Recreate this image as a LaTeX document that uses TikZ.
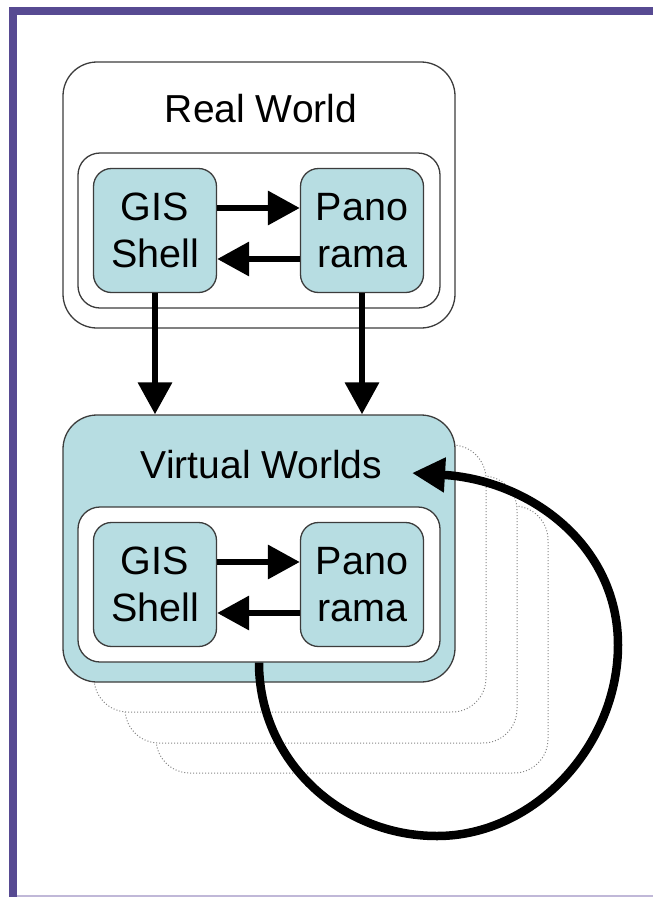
\documentclass[tikz,border=0pt]{standalone}
\usepackage{fontspec}
\setmainfont{Liberation Sans}
\usetikzlibrary{arrows.meta}

\definecolor{framepurple}{RGB}{87,74,146}
\definecolor{framelight}{RGB}{192,184,216}
\definecolor{boxblue}{RGB}{183,221,226}
\definecolor{edgegray}{RGB}{60,60,60}
\definecolor{ghostgray}{RGB}{135,135,135}

\tikzset{
  world/.style={draw=edgegray, line width=1.3pt, rounded corners=34pt,
    minimum width=392pt, minimum height=266pt, inner sep=0pt},
  tray/.style={draw=edgegray, line width=1.3pt, fill=white, rounded corners=22pt,
    minimum width=362pt, minimum height=155pt, inner sep=0pt},
  module/.style={draw=edgegray, line width=1.3pt, fill=boxblue, rounded corners=18pt,
    minimum width=123pt, minimum height=124pt, inner sep=0pt, align=center,
    font=\fontsize{39.5}{47}\selectfont},
  ghost/.style={draw=ghostgray, dotted, line width=1pt, fill=white,
    rounded corners=34pt, minimum width=392pt, minimum height=267pt, inner sep=0pt},
  title/.style={font=\fontsize{39}{47}\selectfont, anchor=base, inner sep=0pt},
  flow/.style={line width=6.5pt, -{Triangle[length=32pt,width=33pt]}},
  cycle/.style={line width=8.5pt, -{Triangle[length=33pt,width=33pt]}},
}

\begin{document}
\begin{tikzpicture}[x=1pt, y=-1pt]
  \useasboundingbox (0,0) rectangle (653,897);

  % page frame
  \fill[framepurple] (9,7) rectangle (17,897);
  \fill[framepurple] (9,7) rectangle (653,15);
  \draw[framelight, line width=1.5pt] (17,896) -- (653,896);

  % real world
  \node[world] (real) at (259,195) {};
  \node[title] (realtitle) at (261,122) {Real World};
  \node[tray] (realin) at (259,230.5) {};
  \node[module] (gisA) at (155,230.5) {GIS\\Shell};
  \node[module] (panoA) at (362,230.5) {Pano\\rama};
  \draw[flow] ([yshift=22.5pt]gisA.east) -- ([yshift=22.5pt]panoA.west);
  \draw[flow] ([yshift=-28.5pt]panoA.west) -- ([yshift=-28.5pt]gisA.east);

  % stack of further virtual worlds
  \node[ghost] (ghostC) at (352,639.5) {};
  \node[ghost] (ghostB) at (321,609.5) {};
  \node[ghost] (ghostA) at (290,578.5) {};

  % virtual world
  \node[world, fill=boxblue, minimum height=267pt] (virt) at (259,548.5) {};
  \node[title] (virttitle) at (261.5,478) {Virtual Worlds};
  \node[tray] (virtin) at (259,584.5) {};
  \node[module] (gisB) at (155,584.5) {GIS\\Shell};
  \node[module] (panoB) at (362,584.5) {Pano\\rama};
  \draw[flow] ([yshift=22.5pt]gisB.east) -- ([yshift=22.5pt]panoB.west);
  \draw[flow] ([yshift=-28.5pt]panoB.west) -- ([yshift=-28.5pt]gisB.east);

  % real world feeds the virtual worlds
  \draw[flow] (gisA.south) -- (gisA.south |- virt.north);
  \draw[flow] (panoA.south) -- (panoA.south |- virt.north);

  % feedback loop
  \coordinate (looptip) at (412,473);
  \draw[cycle] (virtin.south) .. controls (259,760) and (340,836) .. (437,836)
    .. controls (535,836) and (618,745) .. (618,645)
    .. controls (618,545) and (530,480) .. (looptip);
\end{tikzpicture}
\end{document}
